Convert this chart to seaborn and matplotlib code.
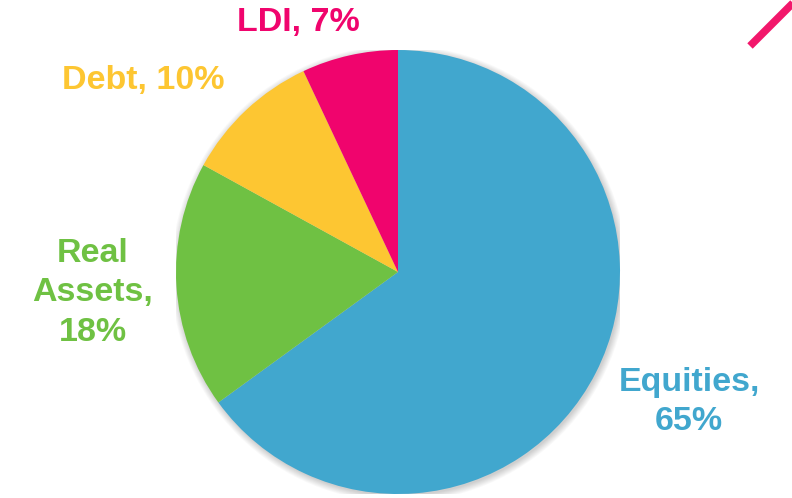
import matplotlib
matplotlib.use("Agg")
import matplotlib.pyplot as plt
from matplotlib.patches import Circle
from matplotlib.lines import Line2D
import seaborn as sns

sns.set_theme(style="white")
plt.rcParams["font.family"] = ["Liberation Sans", "DejaVu Sans"]

categories = ["Equities", "Real Assets", "Debt", "LDI"]
shares = [65, 18, 10, 7]
colors = ["#41A7CE", "#6FC143", "#FDC632", "#F0046D"]

# label text and its position (figure pixels, from top-left)
label_texts = ["Equities,\n65%", "Real\nAssets,\n18%", "Debt, 10%", "LDI, 7%"]
label_xy_px = [(689, 402), (93, 293), (143, 80), (298, 22)]

W, H = 792, 498
fig = plt.figure(figsize=(W / 100, H / 100), dpi=100)
fig.patch.set_facecolor("white")

cx, cy, r = 398, 272, 222
ax = fig.add_axes([(cx - r) / W, (H - cy - r) / H, 2 * r / W, 2 * r / H])

# soft drop shadow behind the pie
for k in range(8):
    ax.add_patch(Circle((0.006, -0.008), 1 + 0.004 * k, facecolor="#000000",
                        edgecolor="none", alpha=0.022, zorder=0))

ax.pie(shares, colors=colors, startangle=90, counterclock=False,
       wedgeprops=dict(edgecolor="none", zorder=1))
ax.set_xlim(-1, 1)
ax.set_ylim(-1, 1)
ax.set_aspect("equal")
ax.axis("off")

for txt, (px, py), col in zip(label_texts, label_xy_px, colors):
    fig.text(px / W, 1 - py / H, txt, color=col, fontsize=24.5,
             fontweight="bold", ha="center", va="center",
             multialignment="center", linespacing=1.36)

# decorative accent stroke in the top-right corner
fig.add_artist(Line2D([750 / W, 800 / W], [1 - 46 / H, 1 + 4 / H],
                      color="#F2176B", linewidth=5.5, solid_capstyle="butt",
                      transform=fig.transFigure))

fig.savefig("out.png", dpi=100, facecolor="white")
